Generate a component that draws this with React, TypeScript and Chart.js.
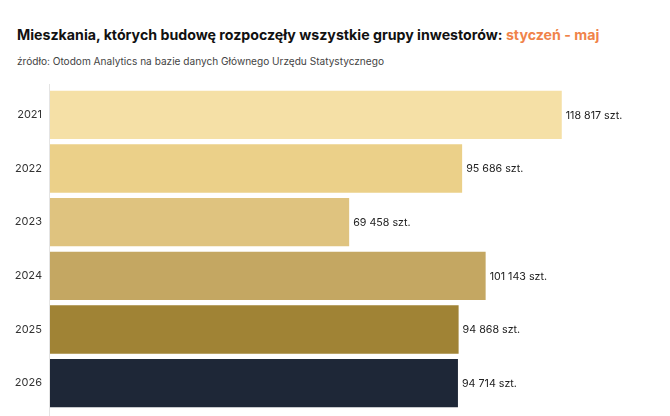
import React, { useEffect, useRef } from "react";
import { Chart, registerables } from "chart.js";

Chart.register(...registerables);

const years = ["2021", "2022", "2023", "2024", "2025", "2026"];
const values = [118817, 95686, 69458, 101143, 94868, 94714];
const barColors = ["#f5e0a6", "#ebd089", "#dfc37f", "#c4a762", "#a08335", "#1e2737"];
const unit = "szt.";
const xMax = 140000;

const fmt = (v: number) => String(v).replace(/\B(?=(\d{3})+(?!\d))/g, " ") + " " + unit;

const FONT = "Inter, 'Noto Sans', sans-serif";

export default function App() {
  const ref = useRef<HTMLCanvasElement | null>(null);
  useEffect(() => {
    if (!ref.current) return;
    const valueLabels = {
      id: "valueLabels",
      afterDatasetsDraw(chart: any) {
        const ctx = chart.ctx;
        const meta = chart.getDatasetMeta(0);
        ctx.save();
        ctx.font = `400 10.7px ${FONT}`;
        ctx.fillStyle = "#222222";
        ctx.textAlign = "left";
        ctx.textBaseline = "middle";
        meta.data.forEach((bar: any, i: number) => {
          ctx.fillText(fmt(values[i]), bar.x + 4, bar.y + 0.5);
        });
        const x = chart.chartArea.left - 1;
        ctx.strokeStyle = "#e4e4e4";
        ctx.lineWidth = 1;
        ctx.beginPath();
        ctx.moveTo(x + 0.5, chart.chartArea.top - 4);
        ctx.lineTo(x + 0.5, chart.height);
        ctx.stroke();
        ctx.restore();
      },
    };
    const chart = new Chart(ref.current, {
      type: "bar",
      data: {
        labels: years,
        datasets: [
          {
            data: values,
            backgroundColor: barColors,
            borderWidth: 0,
            barPercentage: 0.9,
            categoryPercentage: 1,
          },
        ],
      },
      options: {
        indexAxis: "y",
        animation: false,
        responsive: false,
        maintainAspectRatio: false,
        layout: { padding: { top: 88, bottom: 6, right: 17, left: 0 } },
        plugins: { legend: { display: false }, tooltip: { enabled: false } },
        scales: {
          x: { display: false, min: 0, max: xMax },
          y: {
            grid: { display: false, drawTicks: false },
            border: { display: false },
            ticks: {
              padding: 8,
              color: "#333333",
              font: { family: FONT, size: 11 },
            },
            afterFit(scale: any) {
              scale.width = 50;
              scale.paddingTop = 0;
              scale.paddingBottom = 0;
            },
          },
        },
      },
      plugins: [valueLabels],
    });
    return () => chart.destroy();
  }, []);

  return (
    <div style={{ position: "absolute", left: 0, top: 0, width: 670, height: 416, background: "#fff", fontFamily: FONT }}>
      <div
        style={{
          position: "absolute",
          left: 17,
          top: 25,
          fontSize: 14.2,
          fontWeight: 700,
          color: "#111",
          whiteSpace: "nowrap",
          lineHeight: "20px",
        }}
      >
        Mieszkania, których budowę rozpoczęły wszystkie grupy inwestorów:{" "}
        <span style={{ color: "#f0834a" }}>styczeń - maj</span>
      </div>
      <div
        style={{
          position: "absolute",
          left: 17,
          top: 53,
          fontSize: 10.1,
          color: "#444",
          whiteSpace: "nowrap",
          lineHeight: "16px",
        }}
      >
        źródło: Otodom Analytics na bazie danych Głównego Urzędu Statystycznego
      </div>
      <canvas ref={ref} width={670} height={416} style={{ position: "absolute", left: 0, top: 0 }} />
    </div>
  );
}
